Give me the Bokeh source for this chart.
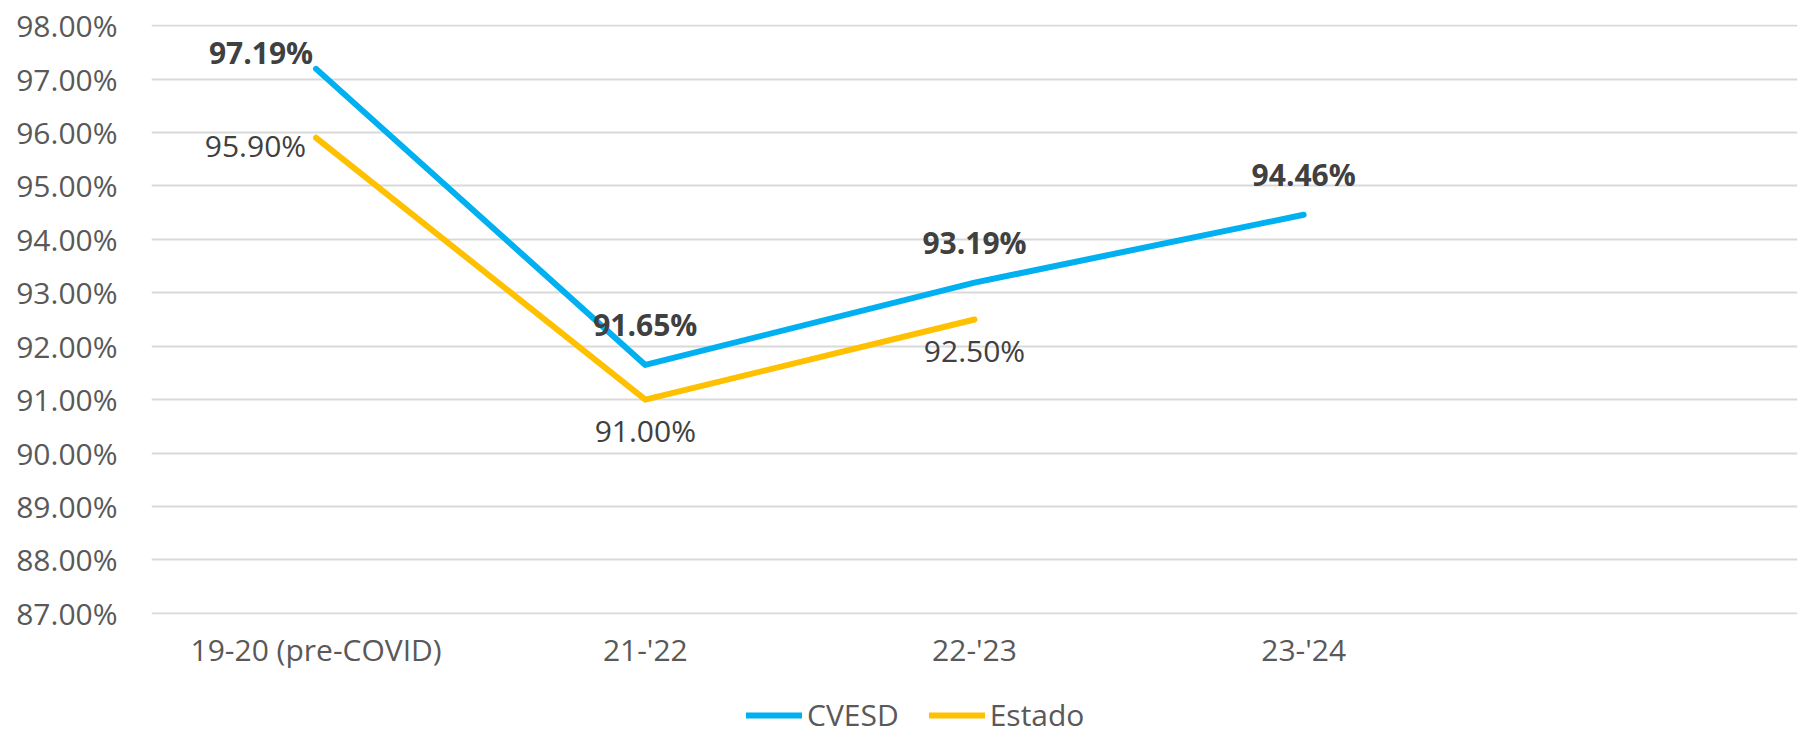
from bokeh.plotting import figure
from bokeh.models import (Range1d, FixedTicker, PrintfTickFormatter, Legend, LegendItem,
                          ColumnDataSource)
from bokeh.layouts import column
from bokeh.core.properties import value
from bokeh.embed import file_html
from bokeh.resources import INLINE

# ---- data ----
categories = ["19-20 (pre-COVID)", "21-'22", "22-'23", "23-'24"]
cvesd = [97.19, 91.65, 93.19, 94.46]
estado = [95.90, 91.00, 92.50]
y_ticks = [87, 88, 89, 90, 91, 92, 93, 94, 95, 96, 97, 98]
series_names = ["CVESD", "Estado"]
cvesd_label_pos = ["left_above", "above", "above", "above"]
estado_label_pos = ["left", "below", "below"]

FONT = "Open Sans"
BLUE = "#00B0F0"
GOLD = "#FFC000"
AXIS_TXT = "#595959"
LABEL_TXT = "#404040"

p = figure(width=1800, height=686, output_backend="svg", toolbar_location=None,
           x_range=Range1d(-0.5, 4.5), y_range=Range1d(86.98, 98.02),
           min_border_left=151, min_border_right=3, min_border_top=24,
           min_border_bottom=72)
p.outline_line_color = None
p.background_fill_color = "white"

# grid
p.xgrid.visible = False
p.ygrid.grid_line_color = "#D9D9D9"
p.ygrid.grid_line_width = 2
p.ygrid.ticker = FixedTicker(ticks=y_ticks)

# axes
yax = p.yaxis[0]
yax.ticker = FixedTicker(ticks=y_ticks)
yax.formatter = PrintfTickFormatter(format="%.2f%%")
yax.axis_line_color = None
yax.major_tick_line_color = None
yax.minor_tick_line_color = None
yax.major_tick_out = 0
yax.major_label_standoff = 34
yax.major_label_text_font = FONT
yax.major_label_text_font_size = "30px"
yax.major_label_text_color = AXIS_TXT

xax = p.xaxis[0]
xax.ticker = FixedTicker(ticks=list(range(len(categories))))
xax.major_label_overrides = {i: c for i, c in enumerate(categories)}
xax.axis_line_color = None
xax.major_tick_line_color = None
xax.minor_tick_line_color = None
xax.major_tick_out = 0
xax.major_label_standoff = 14
xax.major_label_text_font = FONT
xax.major_label_text_font_size = "30px"
xax.major_label_text_color = AXIS_TXT

# lines
xc = list(range(len(cvesd)))
xe = list(range(len(estado)))
p.line(xc, cvesd, line_color=BLUE, line_width=6, line_cap="round", line_join="round")
p.line(xe, estado, line_color=GOLD, line_width=6, line_cap="round", line_join="round")

# label placement: (x offset px, y offset px screen-down, align)
placement = {
    "above": (0, -40, "center"),
    "below": (0, 31, "center"),
    "left_above": (-3, -16, "right"),
    "left": (-10, 8, "right"),
}

def add_labels(xs, ys, poss, bold):
    src = ColumnDataSource(dict(
        x=xs, y=ys,
        txt=["%.2f%%" % v for v in ys],
        xo=[placement[k][0] for k in poss],
        yo=[placement[k][1] for k in poss],
        al=[placement[k][2] for k in poss],
    ))
    p.text(x="x", y="y", text="txt", x_offset="xo", y_offset="yo", text_align="al",
           text_baseline="middle", text_font=value(FONT), text_font_size="30px",
           text_font_style="bold" if bold else "normal", text_color=LABEL_TXT, source=src)

add_labels(xc, cvesd, cvesd_label_pos, True)
add_labels(xe, estado, estado_label_pos, False)

# ---- legend strip (frame aligned with main plot by the column layout) ----
p2 = figure(width=1800, height=55, output_backend="svg", toolbar_location=None,
            x_range=Range1d(0, 1), y_range=Range1d(0, 1),
            x_axis_type=None, y_axis_type=None,
            min_border_left=151, min_border_right=3, min_border_top=0, min_border_bottom=0)
p2.outline_line_color = None
p2.xgrid.visible = False
p2.ygrid.visible = False
nan = float("nan")
g1 = p2.line([nan], [nan], line_color=BLUE, line_width=6, line_cap="round")
g2 = p2.line([nan], [nan], line_color=GOLD, line_width=6, line_cap="round")

legend = Legend(items=[LegendItem(label=series_names[0], renderers=[g1]),
                       LegendItem(label=series_names[1], renderers=[g2])],
                orientation="horizontal", location=(595, 6))
legend.label_text_font = FONT
legend.label_text_font_size = "30px"
legend.label_text_color = AXIS_TXT
legend.glyph_width = 56
legend.glyph_height = 28
legend.label_height = 28
legend.label_standoff = 5
legend.spacing = 30
legend.padding = 0
legend.margin = 0
legend.border_line_color = None
legend.background_fill_alpha = 0
p2.add_layout(legend, "center")

layout = column(p, p2, spacing=0)
open("out.html", "w").write(file_html(layout, INLINE))
